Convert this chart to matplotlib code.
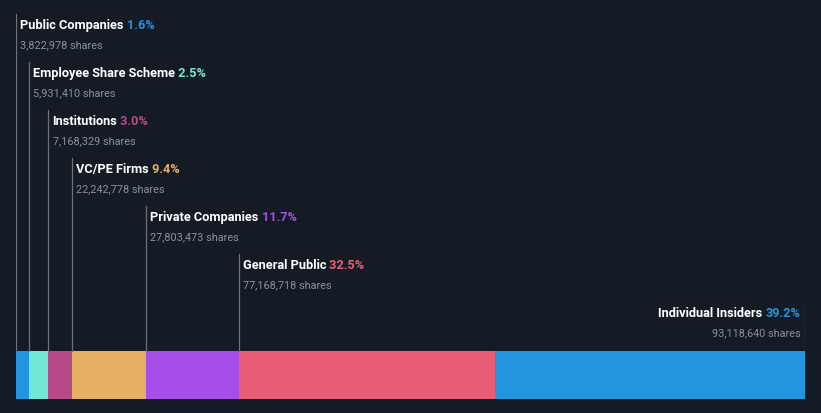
import numpy as np
import matplotlib
matplotlib.use("Agg")
import matplotlib.pyplot as plt

# Ownership breakdown
categories = ["Public Companies", "Employee Share Scheme", "Institutions",
              "VC/PE Firms", "Private Companies", "General Public",
              "Individual Insiders"]
percents = ["1.6%", "2.5%", "3.0%", "9.4%", "11.7%", "32.5%", "39.2%"]
shares = [3822978, 5931410, 7168329, 22242778, 27803473, 77168718, 93118640]
colors = ["#2394df", "#6fe8d6", "#b94a8a", "#e5b064", "#a64ee8",
          "#e85d76", "#2394df"]

BG = "#151b25"
LINE = "#6b7079"
SUB = "#8b9099"

W, H = 821, 414
fig = plt.figure(figsize=(W / 100, H / 100), dpi=100, facecolor=BG)
ax = fig.add_axes([16 / W, 0, (805 - 16) / W, 1])
ax.set_facecolor(BG)
ax.axis("off")

total = sum(shares)
lefts = np.concatenate([[0], np.cumsum(shares)[:-1]])
ax.set_xlim(0, total)
ax.set_ylim(H, 0)

# stacked bar
bar_top, bar_bot = 352, 400
ax.barh((bar_top + bar_bot) / 2, shares, left=lefts, height=bar_bot - bar_top,
        color=colors, linewidth=0)

font = "Roboto"
fs_title, fs_sub = 9.2, 7.8
n = len(categories)
for i, (cat, pct, sh, col) in enumerate(zip(categories, percents, shares, colors)):
    ty = 25 + 48 * i          # title row centre
    last = i == n - 1
    x = total if last else lefts[i]
    ax.plot([x, x], [ty - 10, bar_top], color=LINE, lw=0.9, zorder=1)
    sub = f"{sh:,} shares"
    if not last:
        t = ax.annotate(cat, (x, ty + 4), xytext=(3, 0), textcoords="offset points",
                        color="white", fontsize=fs_title, fontweight="bold",
                        family=font, ha="left", va="baseline")
        ax.annotate(" " + pct, (1, 0), xycoords=t, color=col, fontsize=fs_title,
                    fontweight="bold", family=font, ha="left", va="bottom")
        ax.annotate(sub, (x, ty + 23), xytext=(3, 0), textcoords="offset points",
                    color=SUB, fontsize=fs_sub, family=font, ha="left", va="baseline")
    else:
        p = ax.annotate(pct, (x, ty + 4), xytext=(-3.5, 0), textcoords="offset points",
                        color=col, fontsize=fs_title, fontweight="bold",
                        family=font, ha="right", va="baseline")
        ax.annotate(cat + " ", (0, 0), xycoords=p, color="white", fontsize=fs_title,
                    fontweight="bold", family=font, ha="right", va="bottom")
        ax.annotate(sub, (x, ty + 23), xytext=(-3.5, 0), textcoords="offset points",
                    color=SUB, fontsize=fs_sub, family=font, ha="right", va="baseline")

fig.savefig("out.png", dpi=100, facecolor=BG)
plt.close(fig)
